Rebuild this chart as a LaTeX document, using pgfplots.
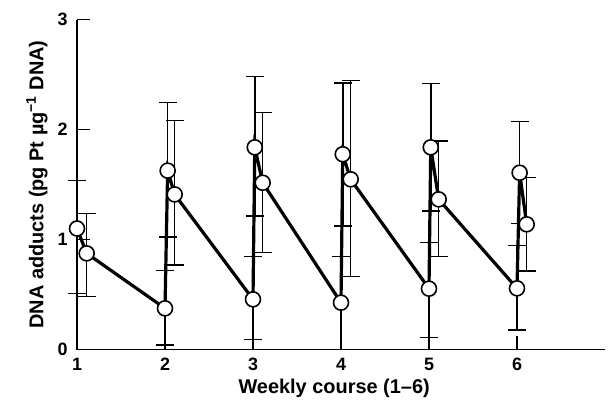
\documentclass[border=0pt]{standalone}
\usepackage{fontspec}
\setmainfont{Liberation Sans}
\usepackage{pgfplots}
\pgfplotsset{compat=1.18}
\usepackage{pgfplotstable}
\pgfplotstableread{
x     y      ep     em
1.00  1.100  0.435  0.590
1.11  0.874  0.364  0.394
2.00  0.374  0.346  0.334
2.03  1.626  0.618  0.601
2.11  1.410  0.670  0.642
3.00  0.456  0.388  0.363
3.02  1.838  0.642  0.624
3.11  1.516  0.637  0.632
4.00  0.426  0.418  0.426
4.02  1.775  0.650  0.652
4.11  1.547  0.897  0.885
5.00  0.553  0.418  0.443
5.02  1.838  0.582  0.579
5.11  1.365  0.530  0.521
6.00  0.556  0.388  0.379
6.03  1.607  0.464  0.460
6.11  1.138  0.424  0.424
}\datatable
\begin{document}
\begin{tikzpicture}
\begin{axis}[
  name=ax, at={(0,0)}, anchor=south west,
  width=528bp, height=330bp, scale only axis,
  xmin=1, xmax=7, ymin=0, ymax=3,
  axis lines=left,
  axis line style={-, line width=1.8bp, black},
  xtick={1,2,3,4,5,6}, ytick={0,1,2,3},
  tick align=inside,
  major tick length=13bp,
  tick style={line width=1.6bp, black},
  clip=false,
  /pgf/number format/assume math mode=true,
  tick label style={font=\bfseries\fontsize{18}{18}\selectfont},
  xticklabel style={yshift=-5bp},
  yticklabel style={xshift=-6bp},
  xlabel={Weekly course (1–6)},
  ylabel={DNA adducts (pg Pt µg\textsuperscript{−1} DNA)},
  label style={font=\bfseries\fontsize{20}{20}\selectfont},
  xlabel style={at={(axis description cs:0.487,0)}, anchor=center, yshift=-39bp},
  ylabel style={at={(axis description cs:-0.076,0.5)}, anchor=center},
]
\addplot[black, line width=3.2bp, mark=none,
  error bars/.cd, y dir=both, y explicit,
  error bar style={line width=1.5bp, black},
  error mark options={rotate=90, mark size=9bp, line width=1.5bp, black}]
  table[x=x, y=y, y error plus=ep, y error minus=em] {\datatable};
\addplot[only marks, mark=*, mark size=7.5bp,
  mark options={fill=white, draw=black, line width=1.6bp}]
  table[x=x, y=y] {\datatable};
\end{axis}
\pgfresetboundingbox
\path (ax.south west) ++(-77bp,-53.5bp) rectangle ++(612bp,403bp);
\end{tikzpicture}
\end{document}
